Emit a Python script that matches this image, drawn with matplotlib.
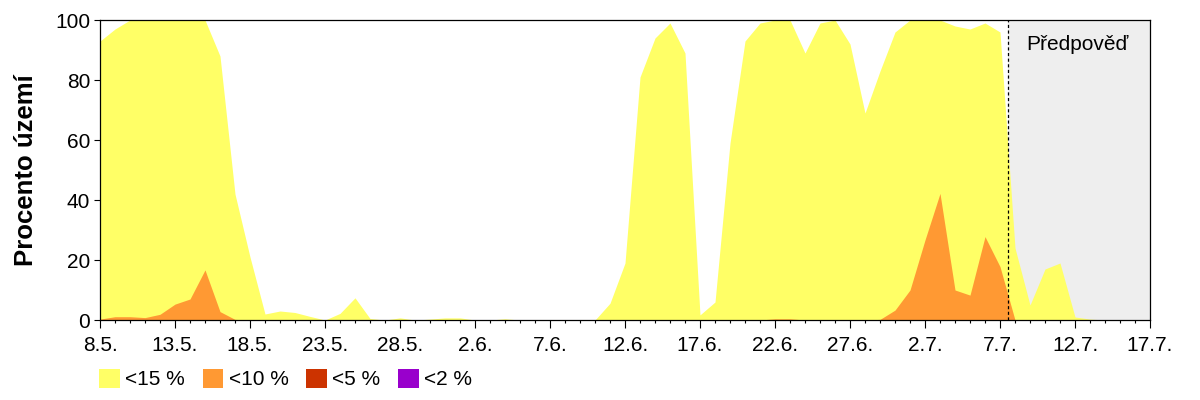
import numpy as np
import matplotlib
matplotlib.use("Agg")
import matplotlib.pyplot as plt
from matplotlib.patches import Patch

plt.rcParams["font.family"] = ["Liberation Sans", "DejaVu Sans"]

# days counted from 8.5.
tick_days = [0, 5, 10, 15, 20, 25, 30, 35, 40, 45, 50, 55, 60, 65, 70]
tick_labels = ["8.5.", "13.5.", "18.5.", "23.5.", "28.5.", "2.6.", "7.6.", "12.6.",
               "17.6.", "22.6.", "27.6.", "2.7.", "7.7.", "12.7.", "17.7."]

# share of territory (%) below each threshold
below_15 = [93, 97, 100, 100, 100, 100, 100, 100, 88, 42,
            21, 2, 3, 2.5, 1.2, 0, 2.2, 7.4, 0.5, 0,
            0.7, 0, 0.3, 0.7, 0.7, 0, 0, 0.4, 0, 0,
            0, 0, 0, 0, 5.6, 19, 81, 94, 99, 89,
            1.7, 6, 59, 93, 99, 100, 100, 89, 99, 100,
            92, 69, 83, 96, 100, 100, 100, 98, 97, 99,
            96, 24, 5, 17, 19, 1, 0.3, 0, 0, 0, 0]
below_10 = [0.3, 1.1, 1.1, 0.8, 1.9, 5.3, 7, 16.7, 2.8, 0.2,
            0, 0, 0, 0, 0, 0, 0, 0, 0, 0,
            0, 0, 0, 0, 0, 0, 0, 0, 0, 0,
            0, 0, 0, 0, 0, 0, 0, 0, 0, 0,
            0, 0, 0, 0, 0, 0.4, 0.4, 0, 0, 0,
            0, 0, 0.2, 3.3, 10, 26.7, 42.2, 10, 8.3, 27.8,
            17.8, 0, 0, 0, 0, 0, 0, 0, 0, 0, 0]
below_5 = [0] * 71
below_2 = [0] * 71

forecast_start = 60.55

series = [
    ("<15 %", below_15, "#FFFF66"),
    ("<10 %", below_10, "#FF9933"),
    ("<5 %", below_5, "#CC3300"),
    ("<2 %", below_2, "#9900CC"),
]

days = np.arange(len(below_15))

fig = plt.figure(figsize=(12, 4), dpi=100)
ax = fig.add_axes([100 / 1200, 80 / 400, 1050 / 1200, 300 / 400])

# forecast background
ax.axvspan(forecast_start, tick_days[-1], color="#EEEEEE", zorder=0, lw=0)

for label, values, color in series:
    ax.fill_between(days, 0, values, color=color, lw=0, zorder=2)

ax.axvline(forecast_start, color="black", linestyle=(0, (2.5, 2)), lw=0.9, zorder=4)
ax.text(forecast_start + 1.2, 92, "Předpověď", fontsize=15, va="center", ha="left", zorder=5)

ax.set_xlim(tick_days[0], tick_days[-1])
ax.set_ylim(0, 100)
ax.set_xticks(tick_days)
ax.set_xticklabels(tick_labels)
ax.set_xticks(np.arange(tick_days[0], tick_days[-1] + 1), minor=True)
ax.set_yticks([0, 20, 40, 60, 80, 100])

ax.tick_params(axis="x", which="major", length=5.5, width=0.8, labelsize=15, pad=6)
ax.tick_params(axis="x", which="minor", length=2.2, width=0.8)
ax.tick_params(axis="y", which="major", length=4, width=0.8, labelsize=15, pad=3)
for s in ax.spines.values():
    s.set_linewidth(0.9)
    s.set_zorder(6)

ax.set_ylabel("Procento území", fontsize=18.5, fontweight="bold")
ax.yaxis.set_label_coords(-62 / 1050, 0.5)

handles = [Patch(facecolor=c, edgecolor="none", label=l) for l, v, c in series]
fig.legend(handles=handles, loc="upper left", bbox_to_anchor=(99 / 1200, 1 - 369 / 400),
           ncol=4, frameon=False, fontsize=15, handlelength=1.0, handleheight=1.0,
           handletextpad=0.25, columnspacing=0.85, borderpad=0, borderaxespad=0)

fig.savefig("out.png", dpi=100)
